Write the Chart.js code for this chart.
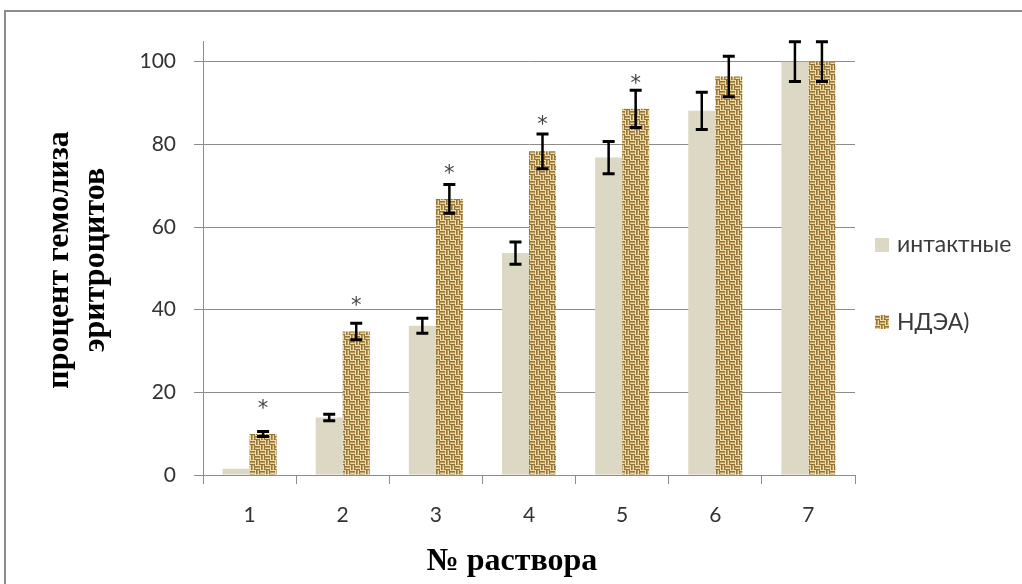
<!DOCTYPE html>
<html><head><meta charset="utf-8">
<script src="https://cdn.jsdelivr.net/npm/chart.js@4"></script>
<style>html,body{margin:0;padding:0;background:#fff;overflow:hidden}#wrap{width:1022px;height:584px;position:relative}</style>
</head><body><div id="wrap"><canvas id="c" width="1022" height="584"></canvas></div>
<script>
const categories = ['1','2','3','4','5','6','7'];
const seriesNames = ['интактные','НДЭА)'];
const intactValues = [1.5, 13.9, 36.1, 53.7, 76.8, 88.1, 100];
const intactErrors = [0, 0.8, 1.8, 2.7, 3.9, 4.5, 4.8];
const ndeaValues = [9.9, 34.7, 66.8, 78.3, 88.6, 96.4, 100];
const ndeaErrors = [0.6, 2.0, 3.5, 4.2, 4.5, 4.9, 4.8];
const asteriskValues = [17.7, 42.5, 74.6, 86.4, 96.4, null, null];
const yTicks = [0, 20, 40, 60, 80, 100];
const yMax = 105;
const yTitle = ['процент гемолиза', 'эритроцитов'];
const xTitle = '№ раствора';

function makeBurlap(ctx) {
  const p = document.createElement('canvas');
  p.width = 10; p.height = 10;
  const g = p.getContext('2d');
  g.fillStyle = '#dcc289'; g.fillRect(0, 0, 10, 10);
  const dark = '#94753c', mid = '#bb9a5a', lite = '#efdca6';
  [[0, 0], [5, 5]].forEach(([ox, oy]) => {
    g.fillStyle = lite; g.fillRect(ox, oy, 5, 1);
    g.fillStyle = dark; g.fillRect(ox, oy + 1, 5, 1);
    g.fillStyle = mid; g.fillRect(ox, oy + 2, 5, 1);
    g.fillStyle = lite; g.fillRect(ox + 1, oy + 3, 3, 1);
    g.fillStyle = dark; g.fillRect(ox, oy + 4, 5, 1);
  });
  [[5, 0], [0, 5]].forEach(([ox, oy]) => {
    g.fillStyle = lite; g.fillRect(ox, oy, 1, 5);
    g.fillStyle = dark; g.fillRect(ox + 1, oy, 1, 5);
    g.fillStyle = mid; g.fillRect(ox + 2, oy, 1, 5);
    g.fillStyle = lite; g.fillRect(ox + 3, oy + 1, 1, 3);
    g.fillStyle = dark; g.fillRect(ox + 4, oy, 1, 5);
  });
  return ctx.createPattern(p, 'repeat');
}

const canvas = document.getElementById('c');
const ctx0 = canvas.getContext('2d');
const burlap = makeBurlap(ctx0);
const intactColor = '#dcd8c4';
const errorSets = [intactErrors, ndeaErrors];

const decorPlugin = {
  id: 'decor',
  beforeDraw(chart) {
    const c = chart.ctx;
    c.save();
    c.fillStyle = '#fff'; c.fillRect(0, 0, chart.width, chart.height);
    c.strokeStyle = '#8c8c8c'; c.lineWidth = 2;
    c.strokeRect(5, 11, 1100, 700);
    c.restore();
  },
  afterDatasetsDraw(chart) {
    const c = chart.ctx;
    const y = chart.scales.y;
    c.save();
    c.strokeStyle = '#000';
    chart.data.datasets.forEach((ds, di) => {
      const meta = chart.getDatasetMeta(di);
      meta.data.forEach((bar, i) => {
        const e = errorSets[di][i];
        if (!e) return;
        const v = ds.data[i];
        const yt = y.getPixelForValue(v + e), yb = y.getPixelForValue(v - e);
        const x = bar.x;
        c.lineWidth = 2.5;
        c.beginPath(); c.moveTo(x, yt); c.lineTo(x, yb); c.stroke();
        c.lineWidth = 3;
        c.beginPath(); c.moveTo(x - 6, yt); c.lineTo(x + 6, yt);
        c.moveTo(x - 6, yb); c.lineTo(x + 6, yb); c.stroke();
      });
    });
    const meta1 = chart.getDatasetMeta(1);
    c.fillStyle = '#444';
    c.font = '21px "DejaVu Sans"';
    c.textAlign = 'center';
    c.textBaseline = 'alphabetic';
    asteriskValues.forEach((v, i) => {
      if (v == null) return;
      c.fillText('*', meta1.data[i].x, y.getPixelForValue(v) + 13);
    });
    c.restore();
  },
  afterDraw(chart) {
    const c = chart.ctx;
    c.save();
    const items = [{ color: intactColor, base: 251.5, cy: 245 }, { color: burlap, base: 330, cy: 322 }];
    c.font = '23px Lato';
    c.textAlign = 'left';
    c.textBaseline = 'alphabetic';
    items.forEach((it, i) => {
      c.fillStyle = it.color;
      c.fillRect(875, it.cy - 7, 14, 14);
      c.fillStyle = '#3a3a3a';
      c.fillText(seriesNames[i], 897, it.base);
    });
    c.fillStyle = '#000';
    c.font = 'bold 32px "Liberation Serif"';
    c.textAlign = 'center';
    c.fillText(xTitle, 512, 570);
    c.save();
    c.translate(68, 260);
    c.rotate(-Math.PI / 2);
    c.fillText(yTitle[0], 0, 0);
    c.fillText(yTitle[1], 0, 36);
    c.restore();
    c.restore();
  }
};

new Chart(canvas, {
  type: 'bar',
  data: {
    labels: categories,
    datasets: [
      { label: seriesNames[0], data: intactValues, backgroundColor: intactColor, borderWidth: 0 },
      { label: seriesNames[1], data: ndeaValues, backgroundColor: burlap, borderWidth: 0 }
    ]
  },
  options: {
    responsive: false,
    animation: false,
    devicePixelRatio: 1,
    layout: { padding: { left: 0, top: 41, right: 167, bottom: 0 } },
    datasets: { bar: { categoryPercentage: 0.58, barPercentage: 1.0 } },
    plugins: { legend: { display: false }, tooltip: { enabled: false } },
    scales: {
      x: {
        grid: { display: true, drawOnChartArea: false, drawTicks: true, tickLength: 9, color: '#8c8c8c', offset: true },
        border: { display: true, color: '#8c8c8c', width: 1 },
        ticks: { color: '#333', font: { family: 'Lato', size: 21 }, padding: 19 },
        afterFit(s) { s.height = 109; }
      },
      y: {
        min: 0, max: yMax,
        afterBuildTicks(s) { s.ticks = yTicks.map(v => ({ value: v })); },
        grid: { color: '#8c8c8c', tickLength: 9, lineWidth: 1 },
        border: { display: true, color: '#8c8c8c', width: 1 },
        ticks: { color: '#333', font: { family: 'Lato', size: 21 }, padding: 18 },
        afterFit(s) { s.width = 203; }
      }
    }
  },
  plugins: [decorPlugin]
});
</script>
</body></html>
